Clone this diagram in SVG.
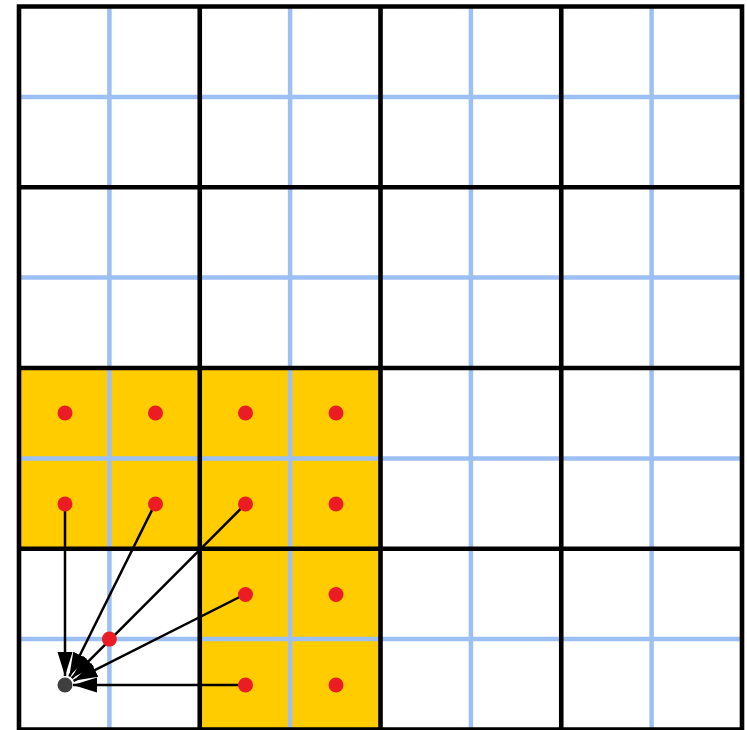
<svg xmlns="http://www.w3.org/2000/svg" width="747" height="730" viewBox="0 0 747 730">
<style>
.blue{stroke:#9dc0f4;stroke-width:4.5;fill:none}
.blk{stroke:#000;stroke-width:4.6;fill:none;stroke-linecap:square}
.yel{fill:#ffcc00}
.red{fill:#ec1c24}
.conn{stroke:#000;stroke-width:2.5;fill:none}
</style>
<defs>
<marker id="ah" markerUnits="userSpaceOnUse" markerWidth="26" markerHeight="18" viewBox="0 0 26 18" refX="24" refY="9" orient="auto">
<path d="M0,1.5 L24,9 L0,16.5 z" fill="#000"/>
</marker>
</defs>
<rect width="747" height="730" fill="#fff"/>
<g id="highlight">
<rect class="yel" x="19" y="368" width="361.5" height="180.75"/>
<rect class="yel" x="199.75" y="548.75" width="180.75" height="181.25"/>
</g>
<g id="fine-grid">
<path class="blue" d="M109.4,6.5V729.5M290.1,6.5V729.5M470.9,6.5V729.5M651.6,6.5V729.5M19,96.9H742M19,277.6H742M19,458.4H742M19,639.1H742"/>
</g>
<g id="coarse-grid">
<path class="blk" d="M19,6.5V729.5M199.75,6.5V729.5M380.5,6.5V729.5M561.25,6.5V729.5M742,6.5V729.5M19,6.5H742M19,187.25H742M19,368H742M19,548.75H742M19,729.5H742"/>
</g>
<g id="connectors">
<line class="conn" x1="65" y1="504" x2="65" y2="676" marker-end="url(#ah)"/>
<line class="conn" x1="155" y1="504" x2="69.3" y2="676.5" marker-end="url(#ah)"/>
<line class="conn" x1="245.5" y1="504" x2="71.7" y2="678.2" marker-end="url(#ah)"/>
<line class="conn" x1="245.5" y1="594" x2="73.5" y2="680.8" marker-end="url(#ah)"/>
<line class="conn" x1="245.5" y1="685" x2="73" y2="685" marker-end="url(#ah)"/>
</g>
<g id="points">
<circle class="red" cx="65" cy="413" r="7.5"/>
<circle class="red" cx="155.5" cy="413" r="7.5"/>
<circle class="red" cx="245.5" cy="413" r="7.5"/>
<circle class="red" cx="336" cy="413" r="7.5"/>
<circle class="red" cx="65" cy="504" r="7.5"/>
<circle class="red" cx="155.5" cy="504" r="7.5"/>
<circle class="red" cx="245.5" cy="504" r="7.5"/>
<circle class="red" cx="336" cy="504" r="7.5"/>
<circle class="red" cx="245.5" cy="594.5" r="7.5"/>
<circle class="red" cx="336" cy="594.5" r="7.5"/>
<circle class="red" cx="245.5" cy="685" r="7.5"/>
<circle class="red" cx="336" cy="685" r="7.5"/>
<circle class="red" cx="109.4" cy="639.1" r="7.5"/>
</g>
<g id="target">
<circle cx="65" cy="685" r="7.5" fill="#3f3f3f"/>
</g>
</svg>
